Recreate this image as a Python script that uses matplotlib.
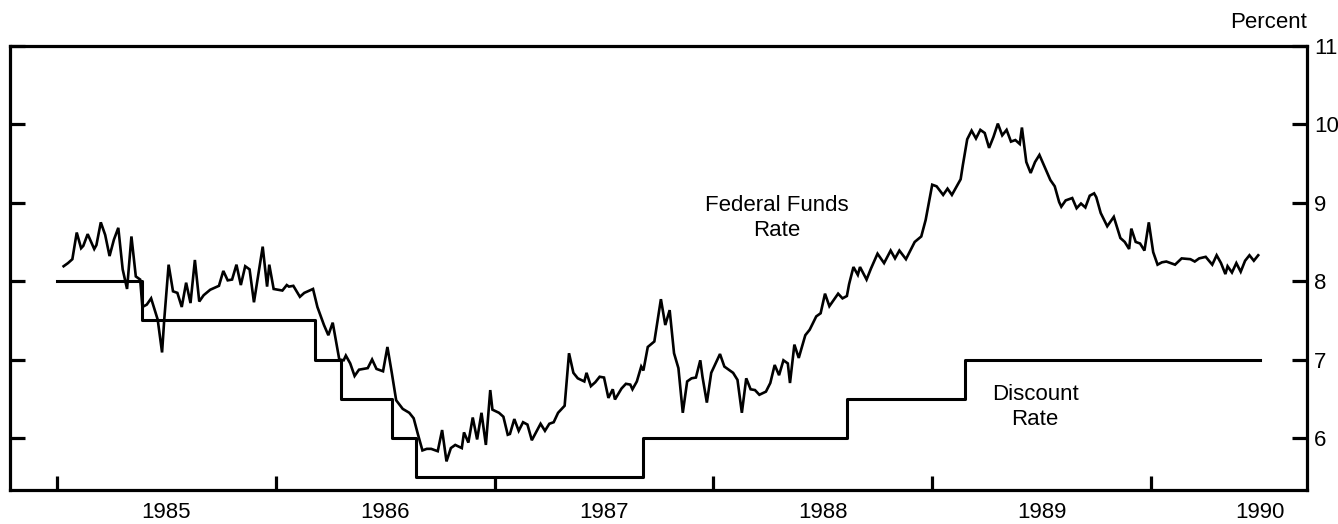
import matplotlib
matplotlib.use("Agg")
import matplotlib.pyplot as plt
from matplotlib.ticker import FixedLocator, NullFormatter, FixedFormatter

plt.rcParams['font.family'] = ['Liberation Sans', 'DejaVu Sans']

# Federal funds rate (weekly, decimal year, percent)
ff_year = [
    1985.03, 1985.05, 1985.07, 1985.09, 1985.11, 1985.12, 1985.14, 1985.17, 1985.18, 1985.20,
    1985.22, 1985.24, 1985.26, 1985.28, 1985.30, 1985.32, 1985.34, 1985.36, 1985.38, 1985.39,
    1985.41, 1985.43, 1985.46, 1985.48, 1985.49, 1985.51, 1985.53, 1985.55, 1985.57, 1985.59,
    1985.61, 1985.63, 1985.65, 1985.67, 1985.70, 1985.74, 1985.76, 1985.78, 1985.80, 1985.82,
    1985.84, 1985.86, 1985.88, 1985.90, 1985.94, 1985.96, 1985.97, 1985.99, 1986.03, 1986.05,
    1986.06, 1986.08, 1986.11, 1986.13, 1986.17, 1986.19, 1986.22, 1986.24, 1986.26, 1986.29,
    1986.31, 1986.32, 1986.34, 1986.36, 1986.38, 1986.42, 1986.44, 1986.46, 1986.49, 1986.51,
    1986.53, 1986.55, 1986.58, 1986.61, 1986.63, 1986.65, 1986.67, 1986.69, 1986.71, 1986.74,
    1986.76, 1986.78, 1986.80, 1986.82, 1986.85, 1986.86, 1986.88, 1986.90, 1986.92, 1986.94,
    1986.96, 1986.98, 1986.99, 1987.02, 1987.04, 1987.06, 1987.07, 1987.09, 1987.11, 1987.13,
    1987.15, 1987.17, 1987.21, 1987.23, 1987.25, 1987.27, 1987.29, 1987.32, 1987.34, 1987.36,
    1987.38, 1987.41, 1987.42, 1987.44, 1987.46, 1987.48, 1987.50, 1987.52, 1987.54, 1987.55,
    1987.58, 1987.60, 1987.62, 1987.63, 1987.65, 1987.67, 1987.68, 1987.70, 1987.73, 1987.76,
    1987.78, 1987.80, 1987.82, 1987.84, 1987.86, 1987.88, 1987.90, 1987.92, 1987.94, 1987.95,
    1987.97, 1987.99, 1988.03, 1988.05, 1988.09, 1988.11, 1988.13, 1988.15, 1988.17, 1988.19,
    1988.21, 1988.24, 1988.26, 1988.28, 1988.30, 1988.32, 1988.34, 1988.35, 1988.37, 1988.39,
    1988.42, 1988.44, 1988.47, 1988.49, 1988.51, 1988.53, 1988.55, 1988.57, 1988.59, 1988.61,
    1988.62, 1988.64, 1988.66, 1988.67, 1988.70, 1988.72, 1988.75, 1988.78, 1988.81, 1988.83,
    1988.85, 1988.88, 1988.92, 1988.95, 1988.97, 1989.00, 1989.02, 1989.05, 1989.07, 1989.09,
    1989.13, 1989.14, 1989.16, 1989.18, 1989.20, 1989.22, 1989.24, 1989.26, 1989.28, 1989.30,
    1989.32, 1989.34, 1989.36, 1989.38, 1989.40, 1989.41, 1989.43, 1989.45, 1989.47, 1989.49,
    1989.52, 1989.54, 1989.56, 1989.58, 1989.59, 1989.61, 1989.64, 1989.66, 1989.68, 1989.70,
    1989.72, 1989.74, 1989.75, 1989.77, 1989.80, 1989.83, 1989.86, 1989.88, 1989.90, 1989.91,
    1989.93, 1989.95, 1989.97, 1989.99, 1990.01, 1990.03, 1990.05, 1990.07, 1990.11, 1990.14,
    1990.18, 1990.20, 1990.22, 1990.25, 1990.28, 1990.30, 1990.32, 1990.34, 1990.35, 1990.37,
    1990.39, 1990.41, 1990.43, 1990.45, 1990.47, 1990.49,
]
ff_rate = [
    8.19, 8.23, 8.28, 8.62, 8.42, 8.45, 8.60, 8.41, 8.46, 8.75,
    8.59, 8.32, 8.53, 8.68, 8.15, 7.90, 8.57, 8.06, 8.02, 7.67,
    7.70, 7.78, 7.51, 7.09, 7.51, 8.21, 7.87, 7.85, 7.67, 7.98,
    7.72, 8.27, 7.74, 7.82, 7.89, 7.94, 8.13, 8.01, 8.02, 8.21,
    7.95, 8.19, 8.15, 7.73, 8.44, 7.93, 8.21, 7.90, 7.88, 7.95,
    7.93, 7.94, 7.80, 7.85, 7.90, 7.67, 7.44, 7.31, 7.47, 7.00,
    6.99, 7.05, 6.95, 6.79, 6.87, 6.89, 7.00, 6.88, 6.85, 7.16,
    6.83, 6.48, 6.37, 6.32, 6.25, 6.04, 5.84, 5.86, 5.86, 5.83,
    6.10, 5.70, 5.87, 5.91, 5.87, 6.07, 5.94, 6.26, 5.98, 6.32,
    5.91, 6.61, 6.36, 6.32, 6.27, 6.04, 6.05, 6.24, 6.09, 6.20,
    6.17, 5.97, 6.18, 6.09, 6.18, 6.20, 6.32, 6.41, 7.08, 6.83,
    6.76, 6.72, 6.83, 6.66, 6.71, 6.78, 6.77, 6.51, 6.62, 6.49,
    6.63, 6.69, 6.68, 6.62, 6.72, 6.91, 6.86, 7.16, 7.23, 7.77,
    7.44, 7.63, 7.08, 6.89, 6.32, 6.72, 6.76, 6.77, 6.99, 6.78,
    6.45, 6.83, 7.07, 6.91, 6.83, 6.74, 6.32, 6.76, 6.62, 6.61,
    6.55, 6.59, 6.70, 6.93, 6.80, 6.99, 6.95, 6.70, 7.19, 7.02,
    7.31, 7.38, 7.55, 7.59, 7.84, 7.68, 7.76, 7.84, 7.78, 7.81,
    7.96, 8.18, 8.08, 8.18, 8.02, 8.16, 8.35, 8.23, 8.39, 8.29,
    8.39, 8.28, 8.50, 8.57, 8.78, 9.23, 9.21, 9.10, 9.18, 9.10,
    9.30, 9.48, 9.81, 9.92, 9.82, 9.93, 9.89, 9.70, 9.84, 10.01,
    9.86, 9.93, 9.78, 9.80, 9.75, 9.96, 9.52, 9.38, 9.52, 9.61,
    9.42, 9.29, 9.21, 9.01, 8.95, 9.03, 9.06, 8.93, 8.99, 8.94,
    9.09, 9.12, 9.07, 8.87, 8.70, 8.82, 8.55, 8.50, 8.41, 8.67,
    8.50, 8.48, 8.39, 8.75, 8.37, 8.21, 8.24, 8.25, 8.21, 8.29,
    8.28, 8.25, 8.29, 8.31, 8.21, 8.33, 8.23, 8.09, 8.19, 8.11,
    8.23, 8.12, 8.26, 8.33, 8.26, 8.33,
]

# Discount rate (step changes: effective date, new rate)
dr_year = [1985.00, 1985.39, 1986.18, 1986.30, 1986.53, 1986.64, 1987.68, 1988.61, 1989.15, 1990.50]
dr_rate = [8.0, 7.5, 7.0, 6.5, 6.0, 5.5, 6.0, 6.5, 7.0, 7.0]

year_ticks = [1985, 1986, 1987, 1988, 1989, 1990]
year_labels = ['1985', '1986', '1987', '1988', '1989', '1990']
y_ticks = [6, 7, 8, 9, 10, 11]

fig = plt.figure(figsize=(13.38, 5.24), dpi=100)
ax = fig.add_axes([10/1338, 34/524, 1297/1338, 444/524])

ax.plot(ff_year, ff_rate, color='black', lw=1.9, solid_joinstyle='miter')
ax.step(dr_year, dr_rate, where='post', color='black', lw=2.2)

ax.set_xlim(1984.785, 1990.713)
ax.set_ylim(5.335, 11.0)

for s in ax.spines.values():
    s.set_linewidth(2.3)

# x axis: ticks at year boundaries, labels at mid-year
ax.xaxis.set_major_locator(FixedLocator(year_ticks))
ax.xaxis.set_major_formatter(NullFormatter())
ax.xaxis.set_minor_locator(FixedLocator([y + 0.5 for y in year_ticks]))
ax.xaxis.set_minor_formatter(FixedFormatter(year_labels))
ax.tick_params(axis='x', which='major', direction='in', length=10, width=2.3, top=False)
ax.tick_params(axis='x', which='minor', length=0, pad=9, labelsize=16)

# y axis: ticks on both sides (inward), labels on right
ax.set_yticks(y_ticks)
ax.yaxis.tick_right()
ax.tick_params(axis='y', which='major', direction='in', length=11, width=2.3,
               left=True, right=True, labelleft=False, labelright=True,
               labelsize=16, pad=5)

ax.text(1.0, 1.03, 'Percent', transform=ax.transAxes, ha='right', va='bottom', fontsize=16)

ax.text(1988.29, 8.80, 'Federal Funds\nRate', ha='center', va='center', fontsize=16, linespacing=1.25)
ax.text(1989.47, 6.40, 'Discount\nRate', ha='center', va='center', fontsize=16, linespacing=1.25)

fig.savefig('out.png', dpi=100)
